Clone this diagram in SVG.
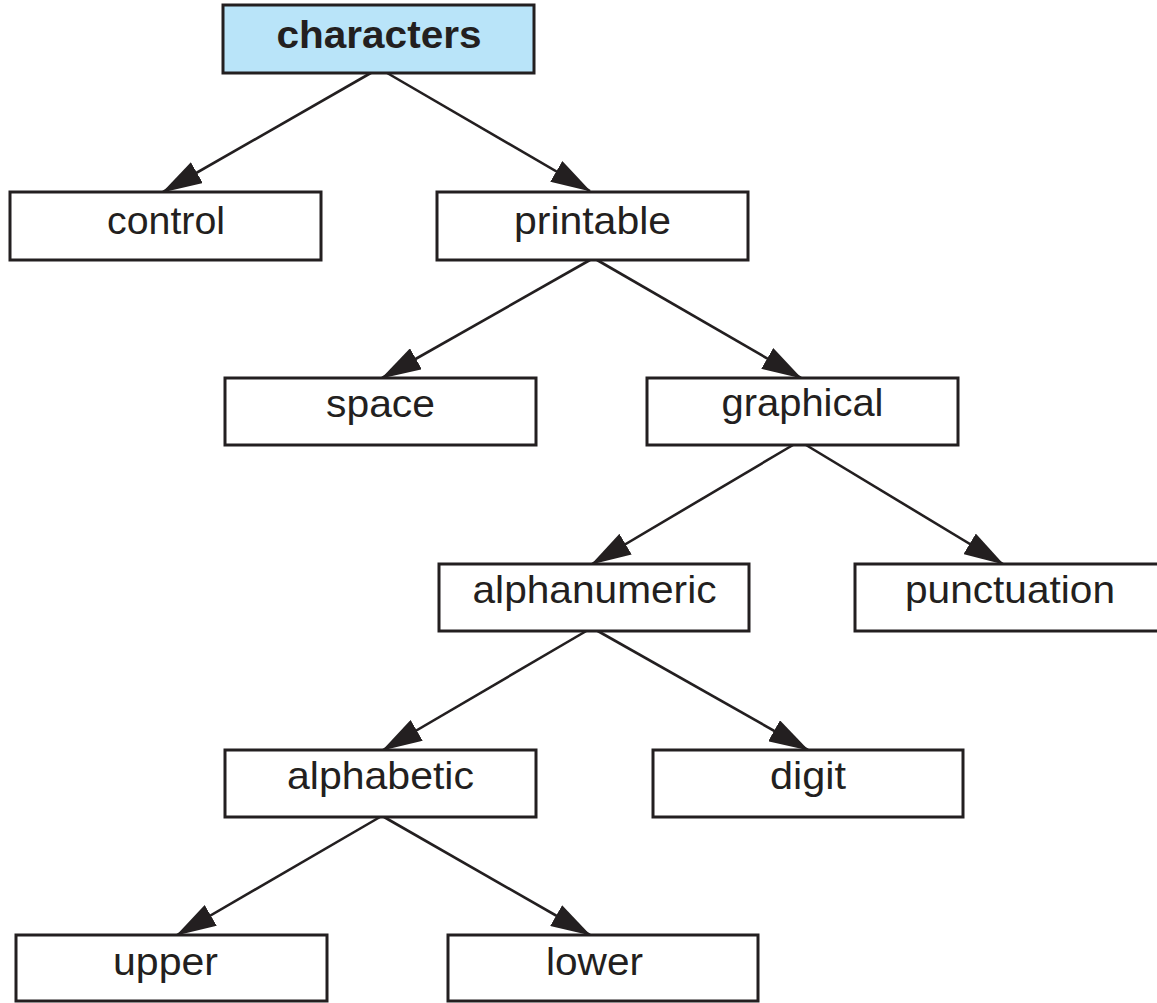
<svg xmlns="http://www.w3.org/2000/svg" width="1157" height="1003" viewBox="0 0 1157 1003">
<style>
.box{fill:#ffffff;stroke:#231f20;stroke-width:3}
.root{fill:#b9e4f9;stroke:#231f20;stroke-width:3}
.lbl{font-family:"Liberation Sans",Arial,sans-serif;font-size:39px;fill:#231f20;text-anchor:middle}
.bold{font-weight:bold}
.edge{stroke:#231f20;stroke-width:2.6;fill:none;marker-end:url(#ah)}
</style>
<defs>
<marker id="ah" markerUnits="userSpaceOnUse" viewBox="0 0 40 24" refX="39" refY="12" markerWidth="40" markerHeight="24" orient="auto">
<path d="M0,0 L40,12 L0,24 z" fill="#231f20"/>
</marker>
</defs>
<rect width="1157" height="1003" fill="#ffffff"/>
<g id="edges">
<line class="edge" x1="376" y1="70" x2="163" y2="192"/>
<line class="edge" x1="382" y1="70" x2="590" y2="191"/>
<line class="edge" x1="590" y1="260" x2="382" y2="378"/>
<line class="edge" x1="597" y1="260" x2="801" y2="378"/>
<line class="edge" x1="793" y1="445" x2="592" y2="564"/>
<line class="edge" x1="806" y1="445" x2="1003" y2="564"/>
<line class="edge" x1="588" y1="630" x2="383" y2="750"/>
<line class="edge" x1="596" y1="630" x2="808" y2="750"/>
<line class="edge" x1="380" y1="817" x2="177" y2="935"/>
<line class="edge" x1="384" y1="817" x2="590" y2="935"/>
</g>
<g id="characters">
<rect class="root" x="223" y="5" width="311" height="68"/>
<text class="lbl bold" x="379" y="48" textLength="205" lengthAdjust="spacingAndGlyphs">characters</text>
</g>
<g id="control">
<rect class="box" x="10" y="192" width="311" height="68"/>
<text class="lbl" x="166" y="234" textLength="118" lengthAdjust="spacingAndGlyphs">control</text>
</g>
<g id="printable">
<rect class="box" x="437" y="192" width="311" height="68"/>
<text class="lbl" x="592.5" y="234" textLength="157" lengthAdjust="spacingAndGlyphs">printable</text>
</g>
<g id="space">
<rect class="box" x="225" y="378" width="311" height="67"/>
<text class="lbl" x="380.5" y="417" textLength="109" lengthAdjust="spacingAndGlyphs">space</text>
</g>
<g id="graphical">
<rect class="box" x="647" y="378" width="311" height="67"/>
<text class="lbl" x="802.5" y="416" textLength="162" lengthAdjust="spacingAndGlyphs">graphical</text>
</g>
<g id="alphanumeric">
<rect class="box" x="439" y="564" width="310" height="67"/>
<text class="lbl" x="594.5" y="603" textLength="244" lengthAdjust="spacingAndGlyphs">alphanumeric</text>
</g>
<g id="punctuation">
<rect class="box" x="855" y="564" width="311" height="67"/>
<text class="lbl" x="1010" y="603" textLength="210" lengthAdjust="spacingAndGlyphs">punctuation</text>
</g>
<g id="alphabetic">
<rect class="box" x="225" y="750" width="311" height="67"/>
<text class="lbl" x="380.5" y="789" textLength="187" lengthAdjust="spacingAndGlyphs">alphabetic</text>
</g>
<g id="digit">
<rect class="box" x="653" y="750" width="310" height="67"/>
<text class="lbl" x="808" y="789" textLength="76" lengthAdjust="spacingAndGlyphs">digit</text>
</g>
<g id="upper">
<rect class="box" x="16" y="935" width="311" height="66"/>
<text class="lbl" x="165.5" y="975" textLength="105" lengthAdjust="spacingAndGlyphs">upper</text>
</g>
<g id="lower">
<rect class="box" x="448" y="935" width="310" height="66"/>
<text class="lbl" x="594.5" y="975" textLength="97" lengthAdjust="spacingAndGlyphs">lower</text>
</g>
</svg>
